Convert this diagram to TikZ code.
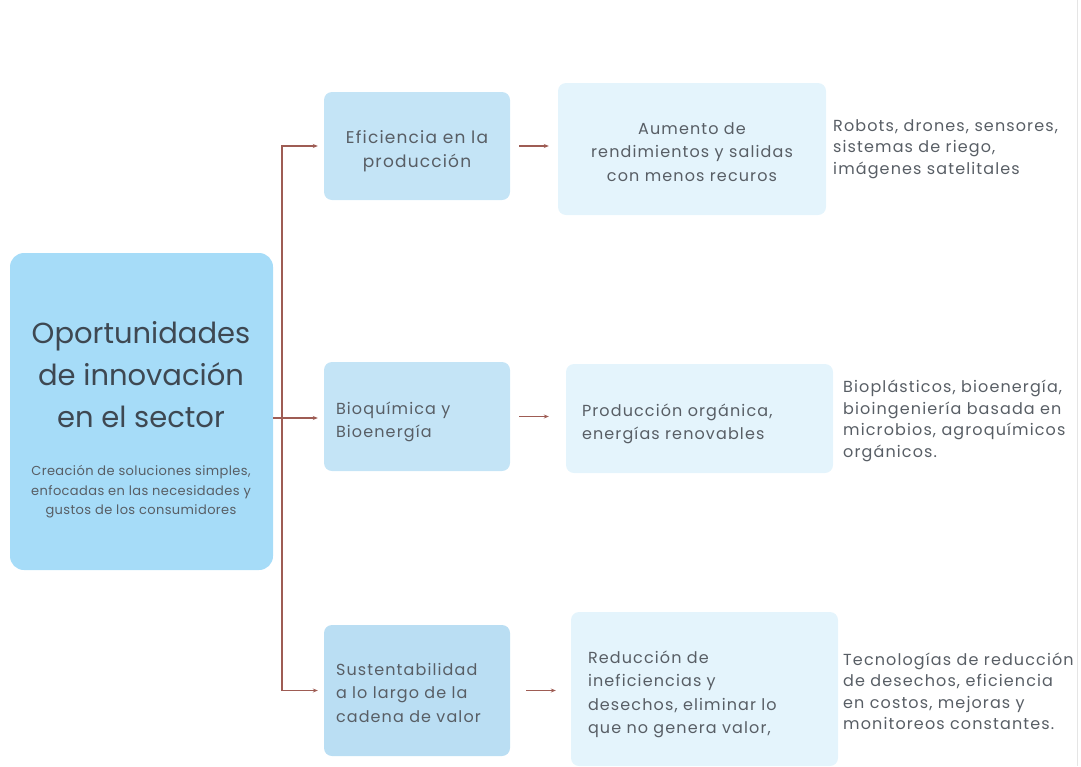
\documentclass[tikz,border=0pt]{standalone}
\usepackage{fontspec}
\setmainfont{Poppins}
\newfontfamily\espaciada{Poppins}[LetterSpace=7]
\newfontfamily\pocoesp{Poppins}[LetterSpace=3]
\usetikzlibrary{arrows.meta}
\definecolor{mainbox}{RGB}{166,220,248}
\definecolor{midbox}{RGB}{196,228,246}
\definecolor{midboxb}{RGB}{186,222,243}
\definecolor{rightbox}{RGB}{228,244,252}
\definecolor{flecha}{RGB}{158,92,84}
\definecolor{txt}{RGB}{88,94,101}
\definecolor{titulo}{RGB}{62,72,82}
\newcommand\bajar[1][24pt]{\rule{0pt}{#1}}
\begin{document}
\begin{tikzpicture}[x=1pt, y=-1pt, >={Stealth[length=5pt,width=4pt]},
    caja/.style={rounded corners=8pt, inner sep=0pt, text=txt, font=\espaciada\fontsize{16}{23.5}\selectfont},
    nota/.style={inner sep=0pt, anchor=west, align=left, text=txt, font=\espaciada\fontsize{16}{21.5}\selectfont},
    conn/.style={->, draw=flecha, line width=1.1pt}]
\useasboundingbox (0,0) rectangle (1081,766);
\draw[gray!20, line width=1pt] (1077,0) -- (1077,766);
% bloque principal
\node[caja, fill=mainbox, minimum width=263pt, minimum height=317pt, rounded corners=14pt] (main) at (141.5,411.5) {};
\node[text=titulo, font=\fontsize{29}{42}\selectfont, align=center] (titulo) at (141,375) {Oportunidades\\de innovación\\en el sector};
\node[text=txt, font=\pocoesp\fontsize{13}{19.5}\selectfont, align=center] (sub) at (141,492) {Creación de soluciones simples,\\enfocadas en las necesidades y\\gustos de los consumidores};
% segunda columna
\node[caja, fill=midbox, minimum width=186pt, minimum height=108pt, align=center,
  font=\espaciada\fontsize{17}{24}\selectfont] (b1) at (417,146) {\bajar Eficiencia en la\\producción};
\node[caja, fill=midbox, minimum width=186pt, minimum height=109pt, align=left, text width=162pt] (b2) at (417,416.5) {\bajar[23pt]Bioquímica y\\Bioenergía};
\node[caja, fill=midboxb, minimum width=186pt, minimum height=131pt, align=left, text width=162pt] (b3) at (417,690.5) {\bajar[17pt]Sustentabilidad\\a lo largo de la\\cadena de valor};
% tercera columna
\node[caja, fill=rightbox, minimum width=268pt, minimum height=132pt, align=center] (a1) at (692,149) {\bajar[18pt]Aumento de\\rendimientos y salidas\\con menos recuros};
\node[caja, fill=rightbox, minimum width=267pt, minimum height=109pt, align=left, text width=235pt] (a2) at (699.5,418.5) {\bajar[23pt]Producción orgánica,\\energías renovables};
\node[caja, fill=rightbox, minimum width=267pt, minimum height=154pt, align=left, text width=233pt] (a3) at (704.5,689) {\bajar[23pt]Reducción de\\ineficiencias y\\desechos, eliminar lo\\que no genera valor,};
% notas
\node[nota] (n1) at (833,149) {Robots, drones, sensores,\\sistemas de riego,\\imágenes satelitales};
\node[nota] (n2) at (843,421) {Bioplásticos, bioenergía,\\bioingeniería basada en\\microbios, agroquímicos\\orgánicos.};
\node[nota] (n3) at (843,691) {Tecnologías de reducción\\de desechos, eficiencia\\en costos, mejoras y\\monitoreos constantes.};
% conectores
\coordinate (fork) at (282,418);
\draw[conn] (main.east |- fork) -- ([xshift=-6pt]b2.west |- fork);
\draw[conn] (fork) |- ([xshift=-6pt]b1.west);
\draw[conn] (fork) |- ([xshift=-6pt]b3.west);
\draw[conn] ([xshift=9pt]b1.east) -- ([xshift=-9pt]a1.west |- b1.east);
\draw[conn] ([xshift=9pt]b2.east) -- ([xshift=-17pt]a2.west |- b2.east);
\draw[conn] ([xshift=16pt]b3.east) -- ([xshift=-15pt]a3.west |- b3.east);
\end{tikzpicture}
\end{document}
